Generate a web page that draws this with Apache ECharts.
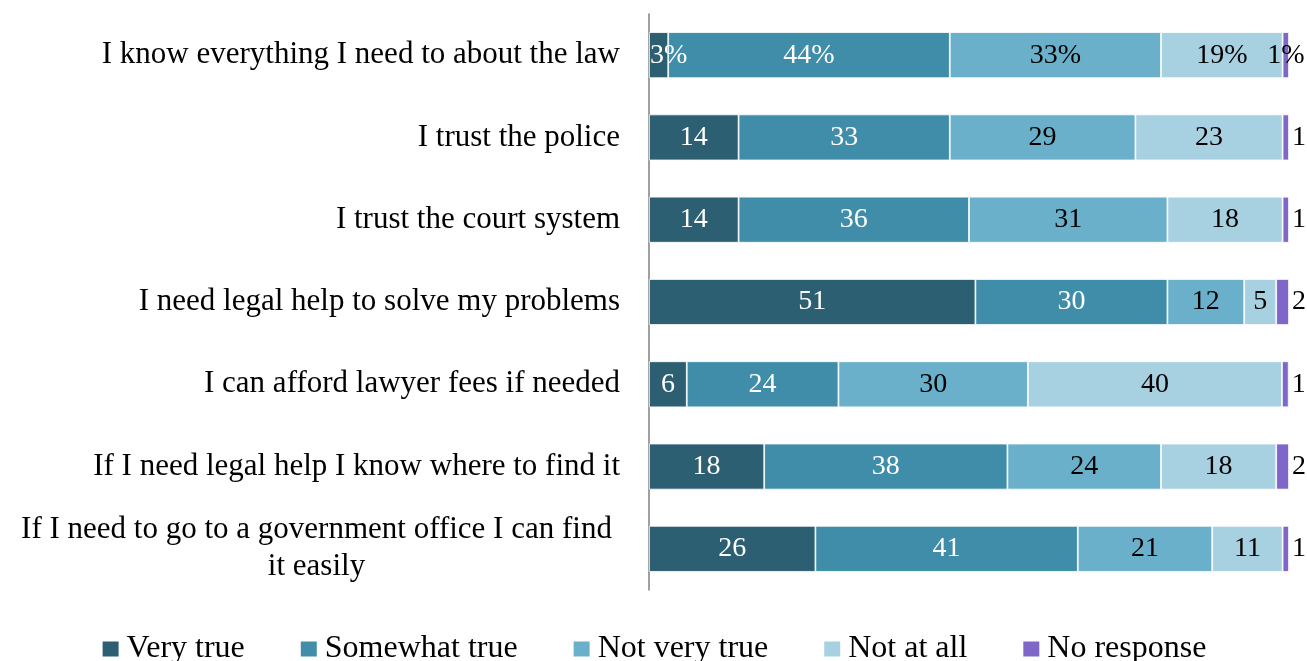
<!DOCTYPE html>
<html>
<head>
<meta charset="utf-8">
<script src="https://cdn.jsdelivr.net/npm/echarts@6/dist/echarts.min.js"></script>
<style>
html,body{margin:0;padding:0;background:#fff;}
#chart{width:1307px;height:661px;}
</style>
</head>
<body>
<div id="chart"></div>
<script>
// ---- data ----
var categories = [
  "I know everything I need to about the law",
  "I trust the police",
  "I trust the court system",
  "I need legal help to solve my problems",
  "I can afford lawyer fees if needed",
  "If I need legal help I know where to find it",
  "If I need to go to a government office I can find\nit easily"
];
var seriesNames = ["Very true", "Somewhat true", "Not very true", "Not at all", "No response"];
var veryTrue     = [3, 14, 14, 51, 5.9, 18, 26];
var somewhatTrue = [44, 33, 36, 30, 23.7, 38, 41];
var notVeryTrue  = [33, 29, 31, 12, 29.6, 24, 21];
var notAtAll     = [19, 23, 18, 5, 39.7, 18, 11];
var noResponse   = [1, 1, 1, 2, 1.05, 2, 1];
var labelSuffix  = ["%", "", "", "", "", "", ""];

// ---- styling ----
var FONT = "Liberation Serif";
var colors = ["#2B5F71", "#3F8DA8", "#6AB0CA", "#A7D0E0", "#7F67C9"];
var labelColors = ["#ffffff", "#ffffff", "#000000", "#000000", "#000000"];
var allValues = [veryTrue, somewhatTrue, notVeryTrue, notAtAll, noResponse];

var chart = echarts.init(document.getElementById('chart'), null, {renderer: 'canvas'});

var series = allValues.map(function (vals, si) {
  var isFirst = si === 0;
  var isLast = si === allValues.length - 1;
  return {
    name: seriesNames[si],
    type: 'bar',
    stack: 'total',
    barWidth: 46,
    itemStyle: { color: colors[si], borderColor: '#ffffff', borderWidth: 0.8 },
    label: {
      show: true,
      position: 'inside',
      color: labelColors[si],
      fontFamily: FONT,
      fontSize: 28,
      formatter: function (p) {
        return Math.round(p.value) + labelSuffix[p.dataIndex];
      }
    },
    data: vals.map(function (v, i) {
      if (isLast && labelSuffix[i] === "") {
        return { value: v, label: { position: 'right', distance: 3 } };
      }
      if (isFirst && v < 4) {
        return { value: v, label: { position: 'insideLeft', distance: 1 } };
      }
      return { value: v };
    })
  };
});

chart.setOption({
  animation: false,
  backgroundColor: '#ffffff',
  grid: { left: 649, right: 18, top: 14, bottom: 71, containLabel: false },
  legend: {
    data: seriesNames,
    bottom: -9,
    left: 'center',
    itemWidth: 18,
    itemHeight: 17,
    itemGap: 54,
    icon: 'rect',
    textStyle: { fontFamily: FONT, fontSize: 32, color: '#000', padding: [0, 0, 0, 2] }
  },
  xAxis: {
    type: 'value',
    min: 0,
    max: 100,
    show: false
  },
  yAxis: {
    type: 'category',
    inverse: true,
    data: categories,
    axisLine: { show: true, lineStyle: { color: '#7f7f7f', width: 1.5 } },
    axisTick: { show: false },
    splitLine: { show: false },
    axisLabel: {
      margin: 29,
      color: '#000',
      fontFamily: FONT,
      fontSize: 31,
      formatter: function (val) {
        if (val.indexOf('\n') >= 0) {
          return val.split('\n').map(function (s) { return '{c|' + s + '}'; }).join('\n');
        }
        return val;
      },
      rich: {
        c: { width: 607, align: 'center', fontFamily: FONT, fontSize: 31, lineHeight: 37, color: '#000' }
      }
    }
  },
  series: series
});
</script>
</body>
</html>
